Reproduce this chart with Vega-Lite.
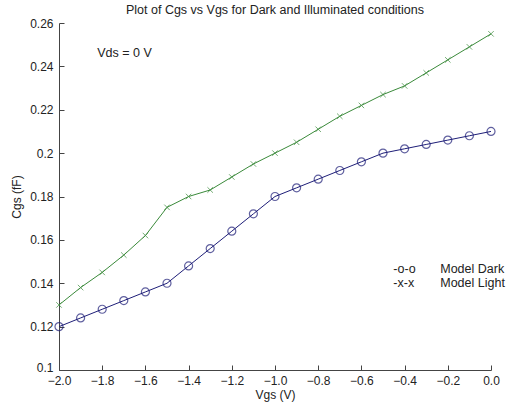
{
  "$schema": "https://vega.github.io/schema/vega-lite/v6.json",
  "width": 432,
  "height": 347,
  "autosize": "none",
  "padding": {"left": 59, "top": 23, "right": 17, "bottom": 40},
  "background": "white",
  "config": {
    "view": {"stroke": null},
    "font": "Liberation Sans",
    "axis": {"grid": false, "domainColor": "#444", "tickColor": "#444", "labelColor": "#222", "titleColor": "#222", "labelFontSize": 12, "titleFontSize": 12, "titleFontWeight": "normal", "labelFont": "Liberation Sans", "titleFont": "Liberation Sans"}
  },
  "title": {"text": "Plot of Cgs vs Vgs for Dark and Illuminated conditions", "fontSize": 12.5, "fontWeight": "normal", "color": "#222", "offset": 1, "anchor": "middle", "font": "Liberation Sans"},
  "datasets": {
    "curves": [
      {"Vgs": -2.0, "Cgs": 0.120, "series": "Dark"},
      {"Vgs": -1.9, "Cgs": 0.124, "series": "Dark"},
      {"Vgs": -1.8, "Cgs": 0.128, "series": "Dark"},
      {"Vgs": -1.7, "Cgs": 0.132, "series": "Dark"},
      {"Vgs": -1.6, "Cgs": 0.136, "series": "Dark"},
      {"Vgs": -1.5, "Cgs": 0.140, "series": "Dark"},
      {"Vgs": -1.4, "Cgs": 0.148, "series": "Dark"},
      {"Vgs": -1.3, "Cgs": 0.156, "series": "Dark"},
      {"Vgs": -1.2, "Cgs": 0.164, "series": "Dark"},
      {"Vgs": -1.1, "Cgs": 0.172, "series": "Dark"},
      {"Vgs": -1.0, "Cgs": 0.180, "series": "Dark"},
      {"Vgs": -0.9, "Cgs": 0.184, "series": "Dark"},
      {"Vgs": -0.8, "Cgs": 0.188, "series": "Dark"},
      {"Vgs": -0.7, "Cgs": 0.192, "series": "Dark"},
      {"Vgs": -0.6, "Cgs": 0.196, "series": "Dark"},
      {"Vgs": -0.5, "Cgs": 0.200, "series": "Dark"},
      {"Vgs": -0.4, "Cgs": 0.202, "series": "Dark"},
      {"Vgs": -0.3, "Cgs": 0.204, "series": "Dark"},
      {"Vgs": -0.2, "Cgs": 0.206, "series": "Dark"},
      {"Vgs": -0.1, "Cgs": 0.208, "series": "Dark"},
      {"Vgs": 0.0, "Cgs": 0.210, "series": "Dark"},
      {"Vgs": -2.0, "Cgs": 0.130, "series": "Light"},
      {"Vgs": -1.9, "Cgs": 0.138, "series": "Light"},
      {"Vgs": -1.8, "Cgs": 0.145, "series": "Light"},
      {"Vgs": -1.7, "Cgs": 0.153, "series": "Light"},
      {"Vgs": -1.6, "Cgs": 0.162, "series": "Light"},
      {"Vgs": -1.5, "Cgs": 0.175, "series": "Light"},
      {"Vgs": -1.4, "Cgs": 0.180, "series": "Light"},
      {"Vgs": -1.3, "Cgs": 0.183, "series": "Light"},
      {"Vgs": -1.2, "Cgs": 0.189, "series": "Light"},
      {"Vgs": -1.1, "Cgs": 0.195, "series": "Light"},
      {"Vgs": -1.0, "Cgs": 0.200, "series": "Light"},
      {"Vgs": -0.9, "Cgs": 0.205, "series": "Light"},
      {"Vgs": -0.8, "Cgs": 0.211, "series": "Light"},
      {"Vgs": -0.7, "Cgs": 0.217, "series": "Light"},
      {"Vgs": -0.6, "Cgs": 0.222, "series": "Light"},
      {"Vgs": -0.5, "Cgs": 0.227, "series": "Light"},
      {"Vgs": -0.4, "Cgs": 0.231, "series": "Light"},
      {"Vgs": -0.3, "Cgs": 0.237, "series": "Light"},
      {"Vgs": -0.2, "Cgs": 0.243, "series": "Light"},
      {"Vgs": -0.1, "Cgs": 0.249, "series": "Light"},
      {"Vgs": 0.0, "Cgs": 0.255, "series": "Light"}
    ],
    "notes": [
      {"Vgs": -1.823, "Cgs": 0.2463, "label": "Vds = 0 V"},
      {"Vgs": -0.452, "Cgs": 0.1466, "label": "-o-o"},
      {"Vgs": -0.235, "Cgs": 0.1466, "label": "Model Dark"},
      {"Vgs": -0.452, "Cgs": 0.1401, "label": "-x-x"},
      {"Vgs": -0.235, "Cgs": 0.1401, "label": "Model Light"}
    ]
  },
  "layer": [
    {
      "data": {"name": "curves"},
      "mark": {"type": "line", "strokeWidth": 1},
      "encoding": {
        "x": {"field": "Vgs", "type": "quantitative", "scale": {"domain": [-2, 0], "nice": false, "zero": false},
              "axis": {"title": "Vgs (V)", "values": [-2, -1.8, -1.6, -1.4, -1.2, -1, -0.8, -0.6, -0.4, -0.2, 0], "tickSize": -5, "labelPadding": 10, "titlePadding": 3, "labelFlush": false}},
        "y": {"field": "Cgs", "type": "quantitative", "scale": {"domain": [0.1, 0.26], "nice": false, "zero": false},
              "axis": {"title": "Cgs (fF)", "values": [0.1, 0.12, 0.14, 0.16, 0.18, 0.2, 0.22, 0.24, 0.26], "tickSize": -5, "labelPadding": 11, "titlePadding": 6, "format": "~g", "labelFlush": false,
                       "labelOffset": {"condition": {"test": "datum.value === 0.1", "value": -3}, "value": 0}}},
        "color": {"field": "series", "type": "nominal", "scale": {"domain": ["Dark", "Light"], "range": ["#1e1e78", "#3a8a3a"]}, "legend": null},
        "detail": {"field": "series"}
      }
    },
    {
      "data": {"name": "curves"},
      "transform": [{"filter": "datum.series === 'Dark'"}],
      "mark": {"type": "point", "shape": "circle", "filled": false, "size": 64, "strokeWidth": 1.2, "color": "#1e1e78"},
      "encoding": {
        "x": {"field": "Vgs", "type": "quantitative"},
        "y": {"field": "Cgs", "type": "quantitative"}
      }
    },
    {
      "data": {"name": "curves"},
      "transform": [{"filter": "datum.series === 'Light'"}],
      "mark": {"type": "point", "shape": "M-1,-1L1,1M1,-1L-1,1", "filled": false, "size": 30, "strokeWidth": 1, "color": "#3a8a3a"},
      "encoding": {
        "x": {"field": "Vgs", "type": "quantitative"},
        "y": {"field": "Cgs", "type": "quantitative"}
      }
    },
    {
      "data": {"name": "notes"},
      "mark": {"type": "text", "align": "left", "baseline": "middle", "fontSize": 12.5, "color": "#222", "font": "Liberation Sans"},
      "encoding": {
        "x": {"field": "Vgs", "type": "quantitative"},
        "y": {"field": "Cgs", "type": "quantitative"},
        "text": {"field": "label"}
      }
    }
  ]
}
